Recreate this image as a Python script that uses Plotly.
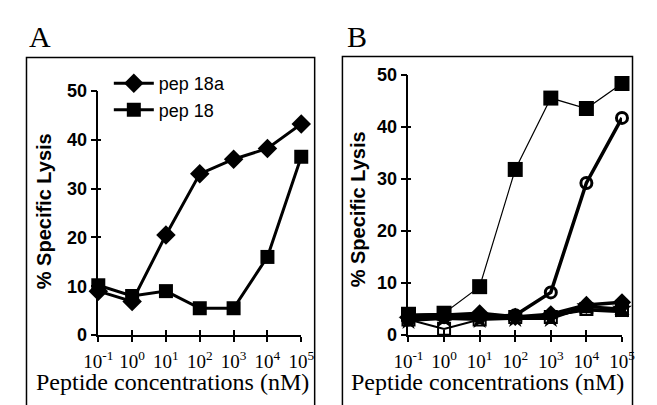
import plotly.graph_objects as go

conc = [0.1, 1, 10, 100, 1e3, 1e4, 1e5]
tick_text = ["10<sup>-1</sup>", "10<sup>0</sup>", "10<sup>1</sup>", "10<sup>2</sup>",
             "10<sup>3</sup>", "10<sup>4</sup>", "10<sup>5</sup>"]
y_ticks = [0, 10, 20, 30, 40, 50]

# Panel A
a_pep18a = [9.0, 6.9, 20.5, 33.0, 36.0, 38.2, 43.2]
a_pep18 = [10.2, 8.0, 9.0, 5.5, 5.5, 16.0, 36.5]

# Panel B
b_sq_filled = [4.0, 4.2, 9.3, 31.8, 45.5, 43.5, 48.3]
b_circ_open = [3.0, 3.5, 3.5, 3.8, 8.2, 29.2, 41.7]
b_sq_open = [3.0, 1.2, 3.0, 3.5, 3.5, 5.0, 4.8]
b_diamond = [3.5, 3.8, 4.2, 3.5, 4.0, 5.8, 6.3]
b_star = [2.8, 3.2, 3.0, 3.2, 3.2, 5.5, 5.0]
b_triangle = [3.8, 4.0, 3.5, 3.3, 3.8, 4.8, 4.5]

W, H = 657, 405
def px(x):
    return x / W
def py(y):
    return 1 - y / H

fig = go.Figure()

# Panel A traces
fig.add_trace(go.Scatter(x=conc, y=a_pep18a, name="pep 18a", mode="lines+markers",
                         line=dict(color="black", width=3),
                         marker=dict(symbol="diamond", size=15, color="black"),
                         xaxis="x", yaxis="y", cliponaxis=False))
fig.add_trace(go.Scatter(x=conc, y=a_pep18, name="pep 18", mode="lines+markers",
                         line=dict(color="black", width=3),
                         marker=dict(symbol="square", size=14, color="black"),
                         xaxis="x", yaxis="y", cliponaxis=False))

# Panel B traces
def bt(y, sym, size, lw, mlw=0, color="black"):
    fig.add_trace(go.Scatter(x=conc, y=y, mode="lines+markers", showlegend=False,
                             line=dict(color="black", width=lw),
                             marker=dict(symbol=sym, size=size, color=color,
                                         line=dict(color="black", width=mlw)),
                             xaxis="x2", yaxis="y2", cliponaxis=False))

bt(b_sq_open, "square-open", 12, 2.0, 2)
bt(b_triangle, "triangle-up", 13, 3.0)
bt(b_star, "star", 15, 3.0)
bt(b_diamond, "diamond", 14, 3.5)
bt(b_circ_open, "circle-open", 11, 3.5, 3)
bt(b_sq_filled, "square", 15, 1.2)

def xa(dom, anchor):
    return dict(type="log", range=[-1, 5], domain=dom, anchor=anchor,
                tickmode="array", tickvals=conc, ticktext=tick_text, tickangle=0,
                tickfont=dict(family="Liberation Serif", size=19, color="black"),
                ticklabelstandoff=3,
                showline=True, linecolor="black", linewidth=1.5,
                ticks="outside", ticklen=5, tickwidth=1.5, tickcolor="black",
                showgrid=False, zeroline=False)

def ya(dom, anchor):
    return dict(range=[0, 50], domain=dom, anchor=anchor, tickvals=y_ticks,
                tickfont=dict(family="Liberation Sans", size=18, color="black", weight="bold"),
                showline=True, linecolor="black", linewidth=1.5,
                ticks="outside", ticklen=6, tickwidth=1.5, tickcolor="black",
                showgrid=False, zeroline=False)

def xin(dom, anchor, over):
    return dict(type="log", range=[-1, 5], domain=dom, anchor=anchor, overlaying=over,
                tickvals=conc, showticklabels=False, showline=False,
                ticks="inside", ticklen=5, tickwidth=1.5, tickcolor="black",
                showgrid=False, zeroline=False)

def yin(dom, anchor, over):
    return dict(range=[0, 50], domain=dom, anchor=anchor, overlaying=over, tickvals=y_ticks,
                showticklabels=False, showline=False,
                ticks="inside", ticklen=3, tickwidth=1.5, tickcolor="black",
                showgrid=False, zeroline=False)

ax_a = [px(87), px(299)]
ay_a = [py(342), py(85)]
ax_b = [px(411), px(634)]
ay_b = [py(342), py(68)]

# dummy traces for inner tick axes
fig.add_trace(go.Scatter(x=[1], y=[1], xaxis="x3", yaxis="y3", mode="markers",
                         marker=dict(opacity=0), showlegend=False, hoverinfo="skip"))
fig.add_trace(go.Scatter(x=[1], y=[1], xaxis="x4", yaxis="y4", mode="markers",
                         marker=dict(opacity=0), showlegend=False, hoverinfo="skip"))

fig.update_layout(
    width=W, height=H, margin=dict(l=0, r=0, t=0, b=0),
    paper_bgcolor="white", plot_bgcolor="rgba(0,0,0,0)",
    xaxis=xa(ax_a, "y"), yaxis=ya(ay_a, "x"),
    xaxis2=xa(ax_b, "y2"), yaxis2=ya(ay_b, "x2"),
    xaxis3=xin(ax_a, "y3", "x"), yaxis3=yin(ay_a, "x3", "y"),
    xaxis4=xin(ax_b, "y4", "x2"), yaxis4=yin(ay_b, "x4", "y2"),
    legend=dict(x=px(98), y=py(58), xanchor="left", yanchor="top",
                font=dict(family="Liberation Sans", size=18, color="black"),
                bgcolor="rgba(0,0,0,0)", tracegroupgap=0, itemwidth=40),
    showlegend=True,
)

shapes = [
    dict(type="rect", xref="paper", yref="paper", x0=px(12), x1=px(313), y0=-0.05, y1=py(50),
         line=dict(color="black", width=1.5)),
    dict(type="rect", xref="paper", yref="paper", x0=px(342), x1=px(645), y0=-0.05, y1=py(49),
         line=dict(color="black", width=1.5)),
]
fig.update_layout(shapes=shapes)

ann = []
title_font = dict(family="Liberation Serif", size=24, color="black")
letter_font = dict(family="Liberation Serif", size=30, color="black")
ann.append(dict(text="A", x=px(13), y=py(28), xref="paper", yref="paper", showarrow=False,
                xanchor="left", yanchor="middle", font=letter_font))
ann.append(dict(text="B", x=px(345), y=py(28), xref="paper", yref="paper", showarrow=False,
                xanchor="left", yanchor="middle", font=letter_font))
ann.append(dict(text="Peptide concentrations (nM)", x=px(164), y=py(391), xref="paper", yref="paper",
                showarrow=False, xanchor="center", yanchor="middle", font=title_font))
ann.append(dict(text="Peptide concentrations (nM)", x=px(494), y=py(391), xref="paper", yref="paper",
                showarrow=False, xanchor="center", yanchor="middle", font=title_font))
yt_font = dict(family="Liberation Sans", size=20, color="black", weight="bold")
ann.append(dict(text="% Specific Lysis", x=px(30), y=py(212), xref="paper", yref="paper",
                showarrow=False, textangle=-90, xanchor="center", yanchor="middle", font=yt_font))
ann.append(dict(text="% Specific Lysis", x=px(358), y=py(210), xref="paper", yref="paper",
                showarrow=False, textangle=-90, xanchor="center", yanchor="middle", font=yt_font))
fig.update_layout(annotations=ann)

fig.write_html("out.html")
